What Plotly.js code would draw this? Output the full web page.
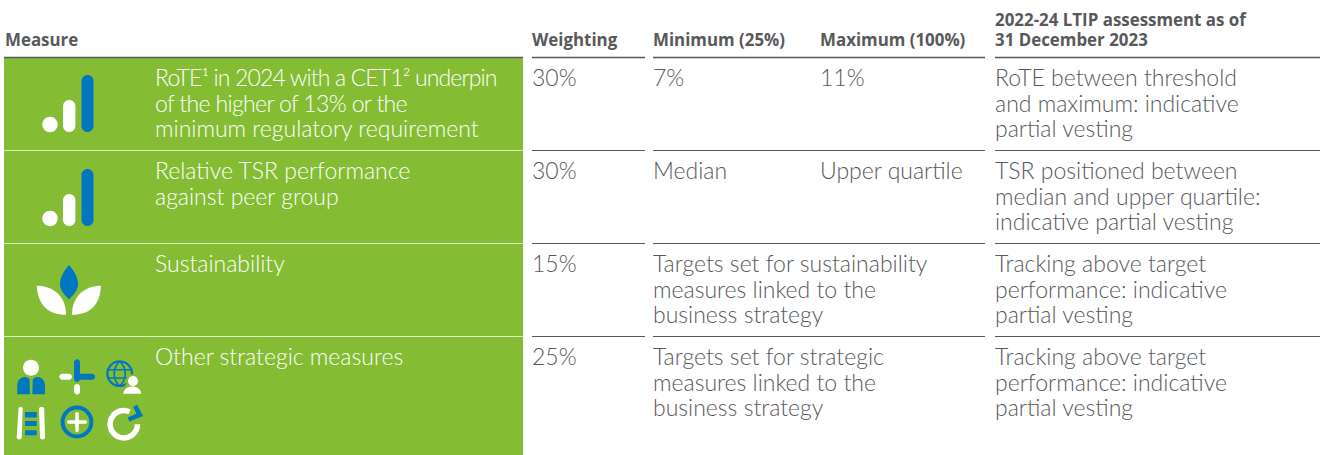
<!DOCTYPE html>
<html><head><meta charset="utf-8">
<script src="https://cdn.plot.ly/plotly-3.0.1.min.js"></script>
<style>html,body{margin:0;padding:0;background:#fff}</style></head>
<body><div id="chart" style="width:1320px;height:455px"></div>
<script>
const headers = ["Measure","Weighting","Minimum (25%)","Maximum (100%)"];
const assessmentHeader = ["2022-24 LTIP assessment as of","31 December 2023"];
const measures = [
  ['<span style="letter-spacing:-0.86px">RoTE¹ in 2024 with a CET1² underpin</span>','<span style="letter-spacing:-0.65px">of the higher of 13% or the</span>',"minimum regulatory requirement"],
  ["Relative TSR performance","against peer group"],
  ["Sustainability"],
  ["Other strategic measures"]
];
const weightings = ["30%","30%","15%","25%"];
const minimums = [["7%"],["Median"],["Targets set for sustainability","measures linked to the","business strategy"],["Targets set for strategic","measures linked to the","business strategy"]];
const maximums = [["11%"],["Upper quartile"],[],[]];
const assessments = [
  ["RoTE between threshold","and maximum: indicative","partial vesting"],
  ["TSR positioned between","median and upper quartile:","indicative partial vesting"],
  ["Tracking above target","performance: indicative","partial vesting"],
  ["Tracking above target","performance: indicative","partial vesting"]
];
const rowTops = [58,151,244,337];
const rowBottom = 455;
const GREEN="#84bc34", BLUE="#0077c0", WHITE="#ffffff", GREY="#58595b";
const BODYFONT="Lato, sans-serif", HEADFONT="'Open Sans', sans-serif";
const LH=25.5, BODY=23, HEAD=16.9;

const ann=[]; const shapes=[];
function txt(x,y,t,size,color,weight,fam){
  ann.push({x:x-1,y,text:t,xref:"x",yref:"y",xanchor:"left",yanchor:"middle",showarrow:false,align:"left",
    font:{family:fam||BODYFONT,size,color,weight:weight||300},borderpad:0});
}
function rect(x0,y0,x1,y1,c){shapes.push({type:"rect",x0,y0,x1,y1,fillcolor:c,line:{width:0},layer:"below"});}
function hl(x0,x1,y,c,w){shapes.push({type:"line",x0,x1,y0:y,y1:y,line:{color:c,width:w}});}
function path(d,fill,stroke,w){shapes.push({type:"path",path:d,fillcolor:fill||"rgba(0,0,0,0)",line:{color:stroke||"rgba(0,0,0,0)",width:w||0}});}
const K=0.5523;
function ellipseD(cx,cy,rx,ry){const a=rx*K,b=ry*K;
  return `M${cx-rx},${cy}C${cx-rx},${cy-b} ${cx-a},${cy-ry} ${cx},${cy-ry}C${cx+a},${cy-ry} ${cx+rx},${cy-b} ${cx+rx},${cy}C${cx+rx},${cy+b} ${cx+a},${cy+ry} ${cx},${cy+ry}C${cx-a},${cy+ry} ${cx-rx},${cy+b} ${cx-rx},${cy}Z`;}
function arcD(cx,cy,r,a0,a1){
  const n=Math.ceil(Math.abs(a1-a0)/90),st=(a1-a0)/n,rad=Math.PI/180;
  const k=4/3*Math.tan(st*rad/4)*r;
  let d=`M${cx+r*Math.cos(a0*rad)},${cy+r*Math.sin(a0*rad)}`;
  for(let i=0;i<n;i++){const s=(a0+i*st)*rad,e=(a0+(i+1)*st)*rad;
    d+=`C${cx+r*Math.cos(s)-k*Math.sin(s)},${cy+r*Math.sin(s)+k*Math.cos(s)} ${cx+r*Math.cos(e)+k*Math.sin(e)},${cy+r*Math.sin(e)-k*Math.cos(e)} ${cx+r*Math.cos(e)},${cy+r*Math.sin(e)}`;}
  return d;}
function circle(cx,cy,r,c){path(ellipseD(cx,cy,r,r),c);}
function ring(cx,cy,r,c,w){path(ellipseD(cx,cy,r,r),null,c,w);}
function vpill(x,y0,y1,hw,c){const b=hw*K;
  path(`M${x-hw},${y0+hw}C${x-hw},${y0+hw-b} ${x-b},${y0} ${x},${y0}C${x+b},${y0} ${x+hw},${y0+hw-b} ${x+hw},${y0+hw}L${x+hw},${y1-hw}C${x+hw},${y1-hw+b} ${x+b},${y1} ${x},${y1}C${x-b},${y1} ${x-hw},${y1-hw+b} ${x-hw},${y1-hw}Z`,c);}
function hpill(x0,x1,y,hw,c){const b=hw*K;
  path(`M${x0+hw},${y-hw}L${x1-hw},${y-hw}C${x1-hw+b},${y-hw} ${x1},${y-b} ${x1},${y}C${x1},${y+b} ${x1-hw+b},${y+hw} ${x1-hw},${y+hw}L${x0+hw},${y+hw}C${x0+hw-b},${y+hw} ${x0},${y+b} ${x0},${y}C${x0},${y-b} ${x0+hw-b},${y-hw} ${x0+hw},${y-hw}Z`,c);}

rect(4,58,523,rowBottom,GREEN);
hl(4,523,57.5,GREY,1.5); hl(532,645,57.5,GREY,1.5); hl(653,985,57.5,GREY,1.5); hl(995,1320,57.5,GREY,1.5);
rowTops.slice(1).forEach(t=>{const y=t-0.5; hl(4,523,y,"#d9ebc0",1); hl(532,645,y,GREY,1); hl(653,985,y,GREY,1); hl(995,1320,y,GREY,1);});

const H=(x,y,t)=>txt(x,y,t,HEAD,GREY,700,HEADFONT);
H(5,39,headers[0]); H(532,39,headers[1]); H(653,39,headers[2]); H(820,39,headers[3]);
H(995,19,assessmentHeader[0]); H(995,39,assessmentHeader[1]);

rowTops.forEach((t,i)=>{
  const base=t+19;
  measures[i].forEach((l,j)=>txt(155,base+j*LH,l,BODY,WHITE));
  txt(532,base,weightings[i],BODY,GREY);
  minimums[i].forEach((l,j)=>txt(653,base+j*LH,l,BODY,GREY));
  maximums[i].forEach((l,j)=>txt(820,base+j*LH,l,BODY,GREY));
  assessments[i].forEach((l,j)=>txt(995,base+j*LH,l,BODY,GREY));
});

// bar icons
[0,94].forEach(o=>{circle(50,124.5+o,7.7,WHITE);vpill(69.2,100+o,132+o,6.2,WHITE);vpill(87.5,75+o,132+o,6,BLUE);});
// leaf
path("M69,265C63,272 60,278 60,284C60,291 65,295 69,299.5C73,295 78,291 78,284C78,278 75,272 69,265Z",BLUE);
path("M36.7,285.7C52,285.7 66,295 66,314.7C48,314.7 38,305 36.7,285.7Z",WHITE);
path("M101,285.7C86,285.7 72,295 72,314.7C90,314.7 100,305 101,285.7Z",WHITE);
// person
circle(31,367.7,8,WHITE);
path("M17.3,394.3L17.3,386C17.3,380 21,377 25,377C27,377 28.5,378 29.5,379.5L30,394.3Z",BLUE);
path("M45,394.3L45,386C45,380 41.3,377 37.3,377C35.3,377 33.8,378 32.8,379.5L32.3,394.3Z",BLUE);
// cross
hpill(59.3,72,376.7,3,WHITE); vpill(77,359.3,382,3,BLUE); hpill(74,95,376.7,3,BLUE); vpill(77,384,394.5,3,WHITE);
// globe with person
ring(119.7,373.7,12.3,BLUE,2.2);
path(arcD(130.7,373.7,16.5,132,228),null,BLUE,1.6);
path(arcD(108.7,373.7,16.5,-48,48),null,BLUE,1.6);
path("M108.5,369.8L131,369.8M108.5,378L127,378",null,BLUE,1.6);
path("M121,395C122,388 126,384.5 133,375C140,384.5 143,388 143,395Z",GREEN);
circle(133,381,7,GREEN); circle(133,381,5,WHITE);
path("M123.3,393.7C124,389 127.5,386.5 132.3,386.5C137,386.5 140.5,389 141.3,393.7Z",WHITE);
// ladder
path("M18.5,408.5C18.8,406.5 22.6,406.5 22.7,408.5L21.7,437.5C21.5,440 16.8,440 16.7,437.5Z",WHITE);
path("M39,408.5C39.2,406.5 44,406.5 44.2,408.5L45,437.5C45,440 40.2,440 40,437.5Z",WHITE);
[[412,417.5],[421,426],[430.3,435.3]].forEach(r=>rect(25,r[0],36.7,r[1],BLUE));
// plus in ring
ring(77,422,14.4,BLUE,4);
hpill(67,87,422,1.8,WHITE); vpill(77,412,432,1.8,WHITE);
// refresh arrow
path(arcD(123.8,424.2,13.7,-65,-360),null,WHITE,5.5);
path("M128.5,419.5L139.8,414.8L135,405.8",null,BLUE,4.6);

const layout={width:1320,height:455,margin:{l:0,r:0,t:0,b:0},paper_bgcolor:"#fff",plot_bgcolor:"#fff",showlegend:false,
  xaxis:{range:[0,1320],visible:false,fixedrange:true},
  yaxis:{range:[455,0],visible:false,fixedrange:true},
  annotations:ann,shapes};
Plotly.newPlot("chart",[{x:[0],y:[0],mode:"markers",marker:{opacity:0},hoverinfo:"skip"}],layout,{displayModeBar:false,staticPlot:true});
</script></body></html>
